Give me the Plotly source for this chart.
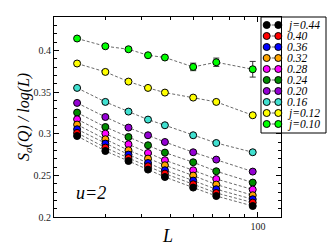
import math
import plotly.graph_objects as go

# ---------------- data ----------------
L_values = [24, 30, 36, 42, 48, 60, 72, 96]
j_labels = ["j=0.44", "0.40", "0.36", "0.32", "0.28", "0.24", "0.20", "0.16", "j=0.12", "j=0.10"]
j_colors = ["#000000", "#ff0000", "#0000ff", "#ffa500", "#ff00ff", "#008b00",
            "#9400d3", "#40e0d0", "#ffff00", "#00ff00"]
s_j044 = [0.2972, 0.2792, 0.2672, 0.2569, 0.2480, 0.2353, 0.2252, 0.2132]
s_j040 = [0.3009, 0.2833, 0.2708, 0.2609, 0.2521, 0.2393, 0.2288, 0.2173]
s_j036 = [0.3053, 0.2881, 0.2749, 0.2648, 0.2561, 0.2437, 0.2333, 0.2213]
s_j032 = [0.3109, 0.2933, 0.2801, 0.2701, 0.2621, 0.2497, 0.2389, 0.2261]
s_j028 = [0.3173, 0.3001, 0.2873, 0.2768, 0.2681, 0.2561, 0.2456, 0.2329]
s_j024 = [0.3253, 0.3080, 0.2960, 0.2861, 0.2773, 0.2657, 0.2549, 0.2413]
s_j020 = [0.3369, 0.3200, 0.3073, 0.2981, 0.2900, 0.2777, 0.2689, 0.2545]
s_j016 = [0.3549, 0.3381, 0.3265, 0.3169, 0.3101, 0.2981, 0.2888, 0.2777]
s_j012 = [0.3842, 0.3741, 0.3625, 0.3549, 0.3493, 0.3433, 0.3381, 0.3221]
s_j010 = [0.4142, 0.4049, 0.4013, 0.3941, 0.3914, 0.3801, 0.3857, 0.3773]
err_j010 = [0.0, 0.0, 0.0, 0.0, 0.0, 0.0045, 0.005, 0.0094]
series = [s_j044, s_j040, s_j036, s_j032, s_j028, s_j024, s_j020, s_j016, s_j012, s_j010]
errors = [None] * 9 + [err_j010]

y_tickvals = [0.2, 0.25, 0.3, 0.35, 0.4]
y_ticktext = ["0.2", "0.25", "0.3", "0.35", "0.4"]
x_tickvals = [100]
x_ticktext = ["100"]
x_minor_vals = [30, 40, 50, 60, 70, 80, 90]

FONT = "Liberation Serif"
W, H = 327, 247
ML, MR, MT, MB = 54, 46, 17, 30
PW, PH = W - ML - MR, H - MT - MB


def px_x(p):
    return (p - ML) / PW


def px_y(p):
    return (H - MB - p) / PH


fig = go.Figure()

line_style = dict(color="#444444", width=0.8, dash="3px,2px")

# main traces, drawn with the lower curves on top
for i in reversed(range(len(series))):
    err = errors[i]
    fig.add_trace(go.Scatter(
        x=L_values, y=series[i], mode="lines+markers",
        line=line_style,
        marker=dict(size=7, color=j_colors[i], line=dict(color="#000000", width=1)),
        error_y=(dict(type="data", array=err, visible=True, color="#333333",
                      thickness=1, width=3) if err is not None else None),
        cliponaxis=False, showlegend=False, xaxis="x", yaxis="y",
    ))

# legend drawn as an inset subplot
for r, (lab, col) in enumerate(zip(j_labels, j_colors)):
    fig.add_trace(go.Scatter(
        x=[0, 1], y=[r, r], mode="lines+markers",
        line=line_style,
        marker=dict(size=7, color=col, line=dict(color="#000000", width=1)),
        cliponaxis=False, showlegend=False, xaxis="x2", yaxis="y2",
        hoverinfo="skip",
    ))
    fig.add_annotation(text=lab, xref="paper", yref="y2", x=px_x(285), y=r,
                       xanchor="left", yanchor="middle", showarrow=False,
                       font=dict(family=FONT, size=11.5, color="#000000", style="italic"))

leg_left, leg_right, leg_top, leg_bottom = 261, 326, 17, 133
row0_y, row_step = 25, 11.0
fig.add_shape(type="rect", xref="paper", yref="paper",
              x0=px_x(leg_left), x1=px_x(leg_right), y0=px_y(leg_bottom), y1=px_y(leg_top),
              line=dict(color="#000000", width=1), fillcolor="rgba(0,0,0,0)", layer="above")

axis_common = dict(showline=True, linecolor="#000000", linewidth=1, mirror="ticks",
                   ticks="inside", tickcolor="#000000", showgrid=False, zeroline=False,
                   tickfont=dict(family=FONT, size=10, color="#222222"))

fig.update_layout(
    width=W, height=H,
    margin=dict(l=ML, r=MR, t=MT, b=MB, pad=0),
    paper_bgcolor="white", plot_bgcolor="white",
    showlegend=False,
    xaxis=dict(type="log", range=[math.log10(20), math.log10(120)],
               tickvals=x_tickvals, ticktext=x_ticktext, ticklen=5,
               minor=dict(tickvals=x_minor_vals, ticks="inside", ticklen=3,
                          tickcolor="#000000", showgrid=False),
               **axis_common),
    yaxis=dict(range=[0.2, 0.44], tickvals=y_tickvals, ticktext=y_ticktext, ticklen=5,
               minor=dict(dtick=0.01, tick0=0.2, ticks="inside", ticklen=3,
                          tickcolor="#000000", showgrid=False),
               **axis_common),
    xaxis2=dict(domain=[px_x(leg_left), 1.0], anchor="y2",
                range=[(leg_left - 266.7) / 11.6, (ML + PW - 266.7) / 11.6],
                visible=False, showgrid=False, zeroline=False),
    yaxis2=dict(domain=[px_y(leg_bottom), 1.0], anchor="x2",
                range=[(leg_bottom - row0_y) / row_step, (leg_top - row0_y) / row_step],
                visible=False, showgrid=False, zeroline=False),
)

fig.add_annotation(text="S<sub>σ</sub>(Q) / log(L)", xref="paper", yref="paper",
                   x=px_x(24), y=0.5, textangle=-90, showarrow=False,
                   xanchor="center", yanchor="middle",
                   font=dict(family=FONT, size=16, color="#000000", style="italic"))
fig.add_annotation(text="L", xref="paper", yref="paper", x=px_x(167), y=px_y(236),
                   showarrow=False, xanchor="center", yanchor="middle",
                   font=dict(family=FONT, size=18, color="#000000", style="italic"))
fig.add_annotation(text="u=2", xref="paper", yref="paper", x=px_x(91), y=px_y(193),
                   showarrow=False, xanchor="center", yanchor="middle",
                   font=dict(family=FONT, size=18, color="#000000", style="italic"))

fig.write_html("out.html", config={"displayModeBar": False},
               post_script="document.body.style.margin='0';")
